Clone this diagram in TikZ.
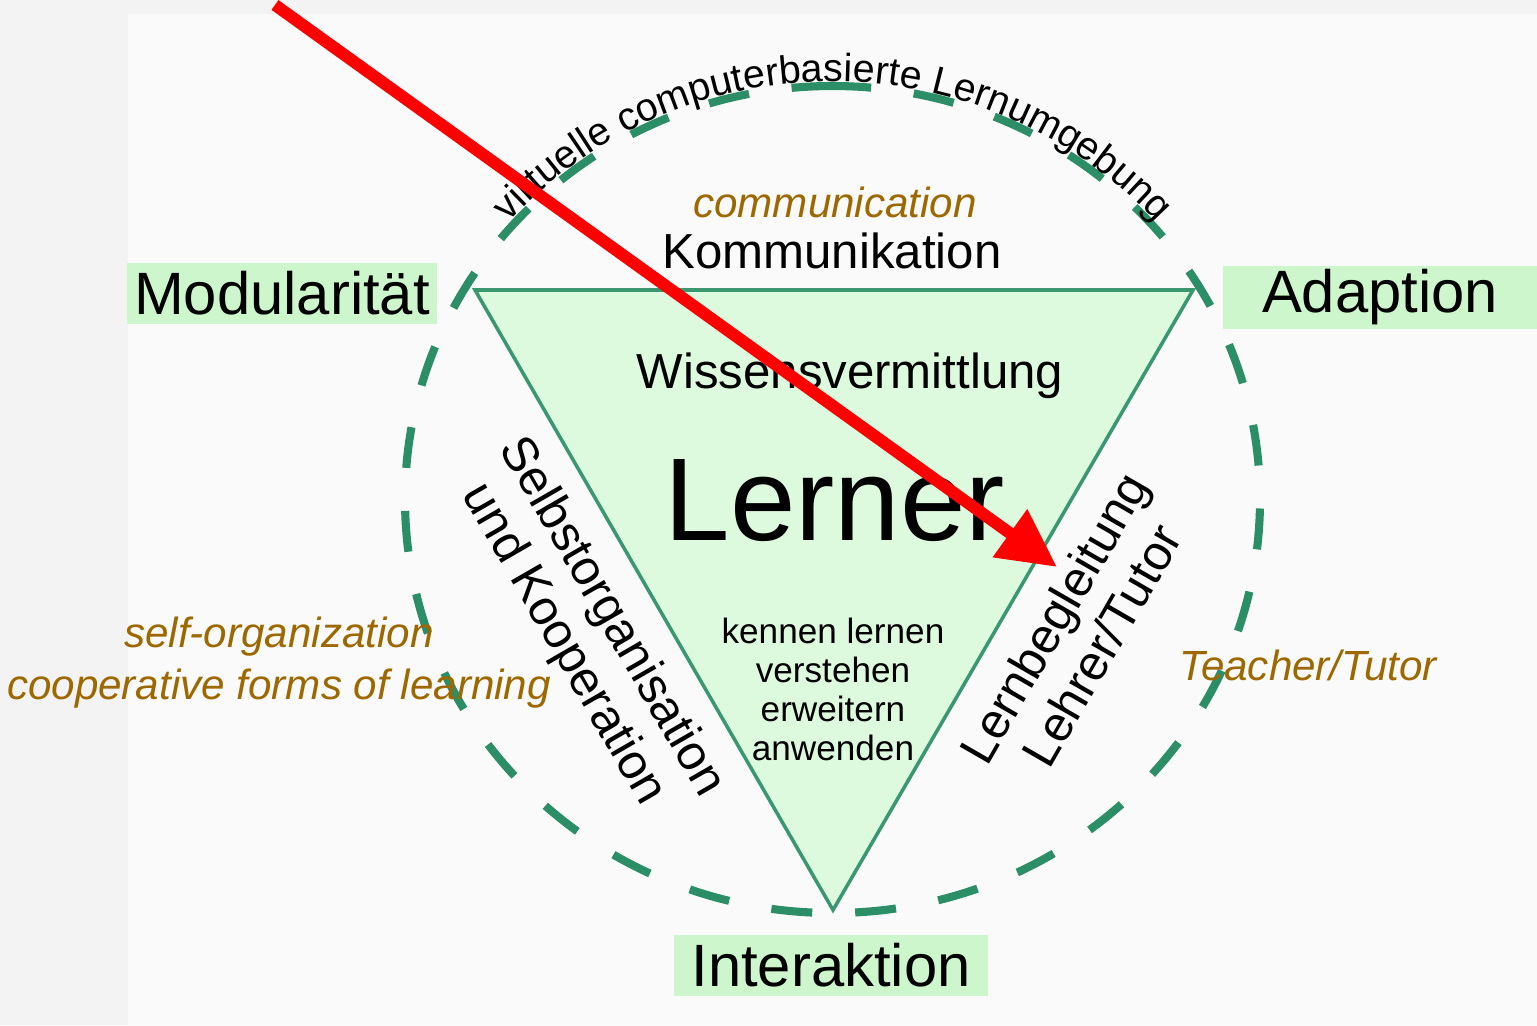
\documentclass[tikz,border=0pt]{standalone}
\usepackage{fontspec}
\setmainfont{Liberation Sans}
\usetikzlibrary{decorations.text,arrows.meta}
\definecolor{ringgreen}{RGB}{44,142,102}
\definecolor{edgegreen}{RGB}{58,152,112}
\definecolor{trifill}{RGB}{222,250,222}
\definecolor{tagfill}{RGB}{205,246,205}
\definecolor{engbrown}{RGB}{158,104,0}
\definecolor{paper}{RGB}{250,250,250}
\definecolor{frame}{RGB}{243,243,243}
\begin{document}
\begin{tikzpicture}[ring/.style={ringgreen,line width=2.3pt,dash pattern=on 0.41cm off 0.43cm},
  tri/.style={draw=edgegreen,line width=1pt,fill=trifill},
  tag/.style={fill=tagfill,inner sep=0pt,minimum width=3.1cm,minimum height=0.61cm,font=\fontsize{17}{20}\selectfont},
  eng/.style={text=engbrown,font=\itshape\fontsize{12}{14.8}\selectfont},
  side/.style={align=center,font=\fontsize{14}{15.8}\selectfont}]
\fill[frame] (0,0) rectangle (15.37,-10.25);
\fill[paper] (1.28,-0.14) rectangle (15.37,-10.25);
\useasboundingbox (0,0) rectangle (15.37,-10.25);
\coordinate (tl) at (4.75,-2.90); \coordinate (tr) at (11.93,-2.90); \coordinate (bt) at (8.33,-9.10);
\draw[tri] (tl)--(tr)--(bt)--cycle;
\draw[ring] (8.325,-4.995) ++(0,4.135) arc[start angle=90,end angle=450,x radius=4.275,y radius=4.135];
\path[decorate,decoration={text along path,text align=center,text={|\fontsize{11.2}{13}\selectfont|virtuelle computerbasierte Lernumgebung}}]
  (8.325,-4.995) ++(139:4.32 and 4.18) arc[start angle=139,end angle=41,x radius=4.32,y radius=4.18];
\node[tag] (modul) at (2.82,-2.93) {Modularität};
\node[tag,minimum width=3.14cm,minimum height=0.63cm] (adapt) at (13.80,-2.975) {Adaption};
\node[tag,minimum width=3.14cm] (interakt) at (8.31,-9.65) {Interaktion};
\node[eng,anchor=base] (commeng) at (8.35,-2.17) {communication};
\node[anchor=base,font=\fontsize{14}{16}\selectfont] (komm) at (8.32,-2.68) {Kommunikation};
\node[anchor=base,font=\fontsize{14}{16}\selectfont] (wissen) at (8.50,-3.88) {Wissensvermittlung};
\node[anchor=base,font=\fontsize{33.5}{38}\selectfont] (lerner) at (8.35,-5.40) {Lerner};
\node[align=center,font=\fontsize{10}{11.1}\selectfont] (stufen) at (8.33,-6.89) {kennen lernen\\verstehen\\erweitern\\anwenden};
\node[side,rotate=-60] (selbst) at (5.87,-6.31) {Selbstorganisation\\und Kooperation};
\node[side,rotate=60] (begleit) at (10.775,-6.315) {Lernbegleitung\\Lehrer/Tutor};
\node[eng,align=center] (selfeng) at (2.79,-6.63) {self-organization\\cooperative forms of learning};
\node[eng,anchor=base] (teacher) at (13.08,-6.80) {Teacher/Tutor};
\coordinate (redstart) at (2.75,-0.05); \coordinate (redtip) at (10.57,-5.67);
\draw[red,line width=0.12cm,-{Triangle[length=0.58cm,width=0.56cm]}] (redstart)--(redtip);
\end{tikzpicture}
\end{document}
